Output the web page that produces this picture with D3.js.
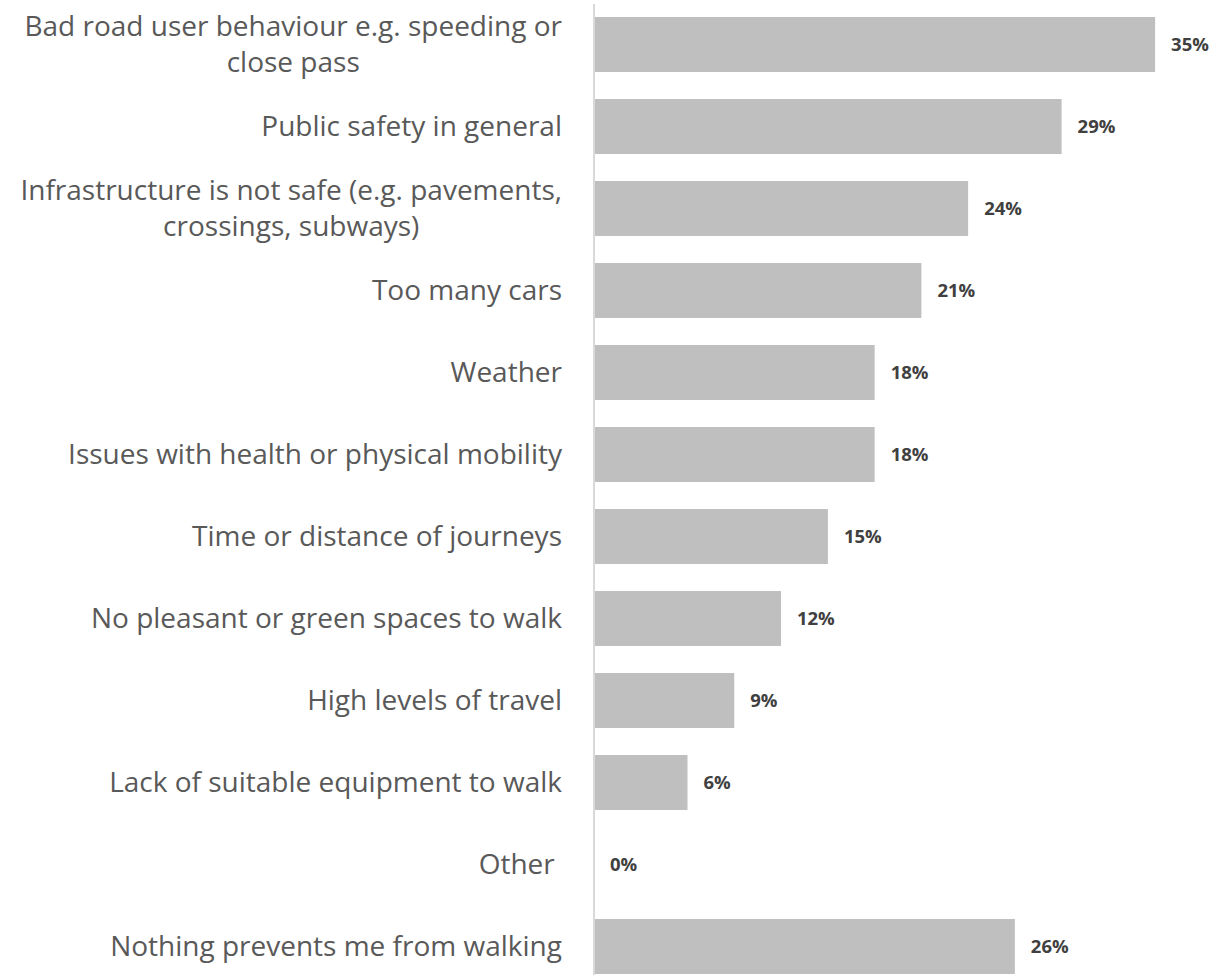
<!DOCTYPE html>
<html>
<head>
<meta charset="utf-8">
<script src="https://cdn.jsdelivr.net/npm/d3@7"></script>
<style>
 body { margin: 0; background: #fff; }
 svg { display: block; }
</style>
</head>
<body>
<script>
var width = 1227, height = 979;

// categories (line breaks where the original wraps)
var categories = [
 "Bad road user behaviour e.g. speeding or\nclose pass",
 "Public safety in general",
 "Infrastructure is not safe (e.g. pavements,\ncrossings, subways)",
 "Too many cars",
 "Weather",
 "Issues with health or physical mobility",
 "Time or distance of journeys",
 "No pleasant or green spaces to walk",
 "High levels of travel",
 "Lack of suitable equipment to walk",
 "Other ",
 "Nothing prevents me from walking"
];
// share of respondents, percent
var values = [35.29, 29.41, 23.53, 20.59, 17.65, 17.65, 14.71, 11.76, 8.82, 5.88, 0, 26.47];

var svg = d3.select('body').append('svg').attr('width', width).attr('height', height);

var x0 = 594;
var x = d3.scaleLinear().domain([0, 38]).range([x0, x0 + 38 * 15.9]);
var y = d3.scaleBand().domain(d3.range(categories.length))
 .range([3.5, 987.5]).paddingInner(0.33).paddingOuter(0.165);

var fmt = function(v) { return d3.format('.0f')(v) + '%'; };

// bars
svg.selectAll('rect.bar')
 .data(values)
 .join('rect')
 .attr('class', 'bar')
 .attr('x', x(0))
 .attr('y', function(d, i) { return y(i); })
 .attr('width', function(d) { return x(d) - x(0); })
 .attr('height', y.bandwidth())
 .attr('fill', '#bfbfbf');

// axis line
svg.append('line')
 .attr('x1', x0).attr('x2', x0)
 .attr('y1', 4).attr('y2', 975)
 .attr('stroke', '#d9d9d9').attr('stroke-width', 2);

// category labels
var lineH = 36;
var lab = svg.selectAll('text.cat')
 .data(categories)
 .join('text')
 .attr('class', 'cat')
 .attr('text-anchor', 'end')
 .attr('font-family', 'Open Sans, sans-serif')
 .attr('font-size', 28)
 .attr('fill', '#595959')
 .style('white-space', 'pre')
 .attr('transform', function(d, i) { return 'translate(562,' + (y(i) + y.bandwidth() / 2) + ')'; });

lab.each(function(d) {
 var lines = d.split('\n');
 var t = d3.select(this);
 var spans = lines.map(function(l, k) {
 return t.append('tspan')
 .attr('x', 0)
 .attr('y', (k - (lines.length - 1) / 2) * lineH)
 .attr('dy', '0.35em')
 .text(l);
 });
 // wrapped labels: lines centred on the widest one
 if (lines.length > 1) {
 var w = d3.max(spans, function(s) { return s.node().getComputedTextLength(); });
 t.attr('text-anchor', 'middle');
 spans.forEach(function(s) { s.attr('x', -w / 2); });
 }
});

// value labels
svg.selectAll('text.val')
 .data(values)
 .join('text')
 .attr('class', 'val')
 .attr('x', function(d) { return x(d) + 16; })
 .attr('y', function(d, i) { return y(i) + y.bandwidth() / 2; })
 .attr('dy', '0.35em')
 .attr('font-family', 'Open Sans, sans-serif')
 .attr('font-weight', 'bold')
 .attr('font-size', 18.5)
 .attr('fill', '#404040')
 .text(fmt);

console.log('ready..');
</script>
</body>
</html>
